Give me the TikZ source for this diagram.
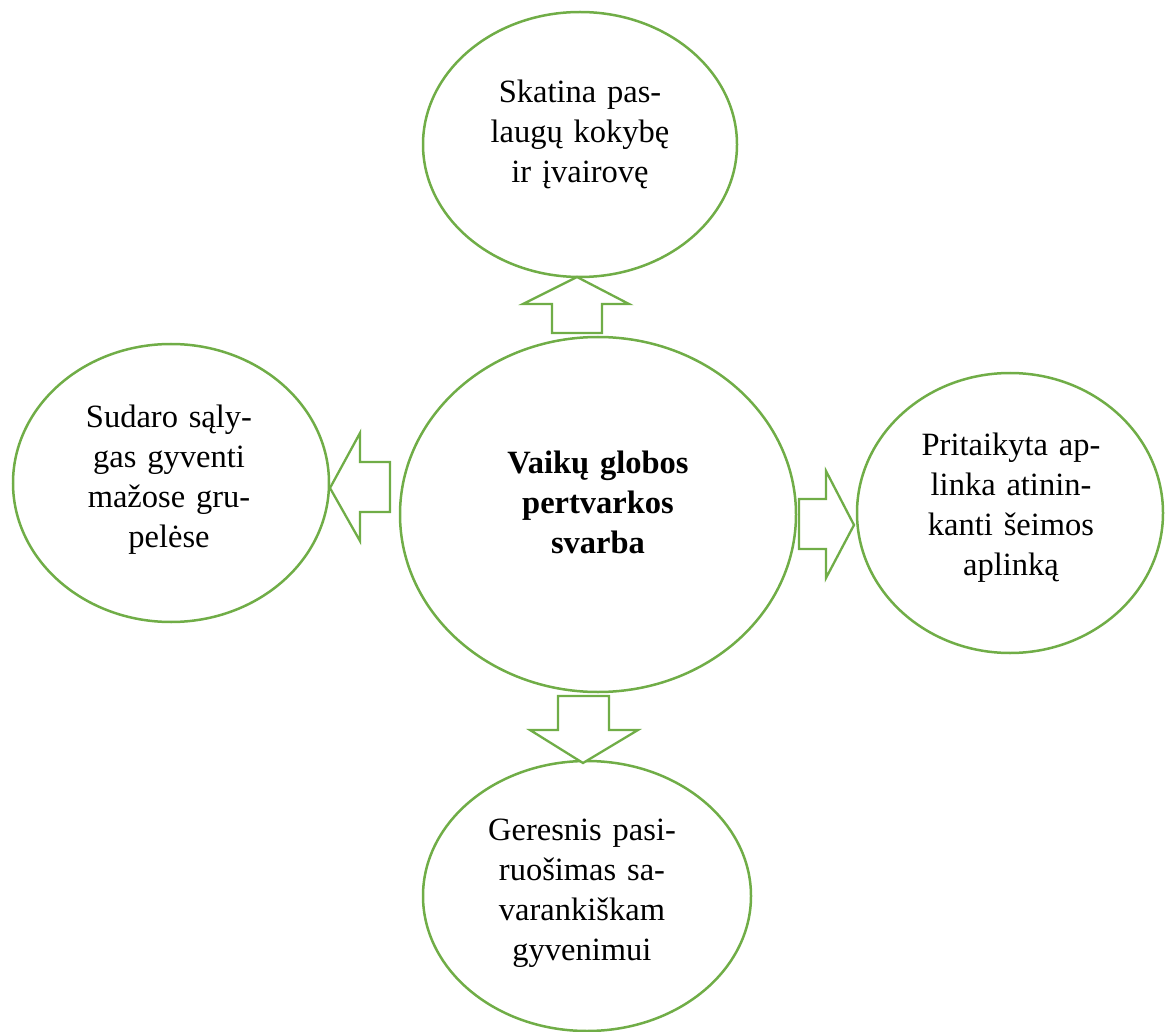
\documentclass[tikz,border=0pt]{standalone}
\usepackage{fontspec}
\setmainfont{Liberation Serif}
\usetikzlibrary{shapes.geometric}
\definecolor{acc}{HTML}{70AD47}
\begin{document}
\begin{tikzpicture}[x=1pt,y=-1pt,
  ell/.style={ellipse,draw=acc,line width=2.5pt,inner sep=0pt},
  lbl/.style={text width=300pt,align=center,anchor=base,inner sep=0pt,font=\fontsize{32.5}{40}\selectfont},
  blockarrow/.style={draw=acc,line width=2.3pt,fill=white,line join=miter}]
\useasboundingbox (0,0) rectangle (1165,1032);
% ellipses
\node[ell,minimum width=396pt,minimum height=355pt] (center) at (598,514.5) {};
\node[ell,minimum width=314pt,minimum height=265pt] (top) at (580,144.5) {};
\node[ell,minimum width=316pt,minimum height=278pt] (left) at (171,483) {};
\node[ell,minimum width=306pt,minimum height=280pt] (right) at (1010,513) {};
\node[ell,minimum width=328pt,minimum height=270pt] (bottom) at (587,896) {};
% labels
\node[lbl] (ctext) at (598,473) {\bfseries Vaikų globos\\pertvarkos\\svarba};
\node[lbl] (ttext) at (580,103) {Skatina pas-\\laugų kokybę\\ir įvairovę};
\node[lbl] (ltext) at (169,427) {Sudaro sąly-\\gas gyventi\\mažose gru-\\pelėse};
\node[lbl] (rtext) at (1011,455) {Pritaikyta ap-\\linka atinin-\\kanti šeimos\\aplinką};
\node[lbl] (btext) at (582,840) {Geresnis pasi-\\ruošimas sa-\\varankiškam\\gyvenimui};
% block arrows
\draw[blockarrow] (552,333) -- (552,304) -- (523,304) -- (577,277) -- (629,304) -- (602,304) -- (602,333) -- cycle;
\draw[blockarrow] (390,462) -- (360,462) -- (360,433) -- (330,488) -- (360,541) -- (360,512) -- (390,512) -- cycle;
\draw[blockarrow] (799,499) -- (826,499) -- (826,471) -- (854,525) -- (826,578) -- (826,549) -- (799,549) -- cycle;
\draw[blockarrow] (558,696) -- (609,696) -- (609,730) -- (638,730) -- (583,763) -- (530,730) -- (558,730) -- cycle;
\end{tikzpicture}
\end{document}
